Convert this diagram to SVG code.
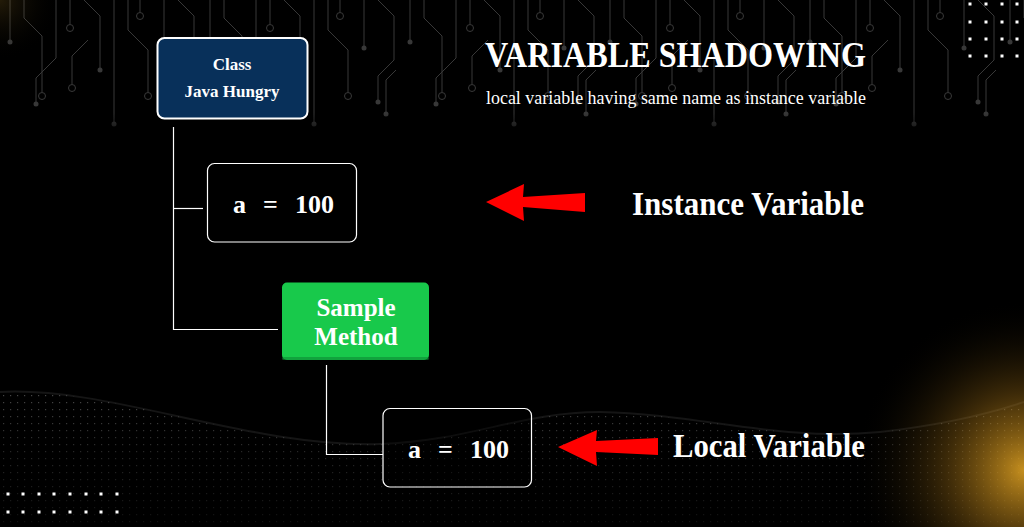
<svg xmlns="http://www.w3.org/2000/svg" width="1024" height="527" viewBox="0 0 1024 527">
  <defs>
    <style>
      .trace { fill: none; stroke: #383838; stroke-width: 1; }
      .dotc { fill: #383838; }
      .ring { fill: none; stroke: #383838; stroke-width: 1; }
      .sq { fill: #ffffff; }
      .conn { fill: none; stroke: #ffffff; stroke-width: 1.2; }
      .serif { font-family: "Liberation Serif", "Times New Roman", serif; fill: #ffffff; }
      .b { font-weight: bold; }
      .arrow { fill: #ff0000; }
      .vbox { fill: #000000; stroke: #ffffff; stroke-width: 1.2; }
    </style>
    <pattern id="circuit" x="0" y="0" width="200" height="140" patternUnits="userSpaceOnUse">
      <path class="trace" d="M10 0 V40"/><circle class="dotc" cx="10" cy="42" r="2.5"/>
      <path class="trace" d="M24 0 V18 L42 36 V92"/><circle class="ring" cx="42" cy="96" r="3.5"/>
      <path class="trace" d="M56 0 V58 L36 78 V102"/><circle class="dotc" cx="36" cy="104" r="2.5"/>
      <path class="trace" d="M70 0 V24"/><circle class="ring" cx="70" cy="28" r="3.5"/>
      <path class="trace" d="M84 0 L100 16 V68"/><circle class="dotc" cx="100" cy="70" r="2.5"/>
      <path class="trace" d="M114 0 V122"/><circle class="dotc" cx="114" cy="124" r="2.5"/>
      <path class="trace" d="M128 0 V30 L148 50 V92"/><circle class="ring" cx="148" cy="96" r="3.5"/>
      <path class="trace" d="M140 0 V12"/><circle class="ring" cx="140" cy="16" r="3.5"/>
      <path class="trace" d="M164 0 V46"/><circle class="dotc" cx="164" cy="48" r="2.5"/>
      <path class="trace" d="M178 0 L194 16 V60 L178 76 V100"/><circle class="dotc" cx="178" cy="102" r="2.5"/>
      <path class="trace" d="M88 40 L72 56 V84"/><circle class="ring" cx="72" cy="88" r="3.5"/>
      <path class="trace" d="M196 70 L186 80 V112"/><circle class="dotc" cx="186" cy="114" r="2.5"/>
    </pattern>
    <pattern id="mesh" x="0" y="0" width="7" height="7" patternUnits="userSpaceOnUse">
      <rect x="3" y="3" width="1.2" height="1.2" fill="#9a9a9a"/>
    </pattern>
    <linearGradient id="meshFade" x1="0" y1="0" x2="0" y2="1">
      <stop offset="0" stop-color="#ffffff" stop-opacity="0.5"/>
      <stop offset="0.5" stop-color="#ffffff" stop-opacity="0.25"/>
      <stop offset="1" stop-color="#ffffff" stop-opacity="0.1"/>
    </linearGradient>
    <mask id="meshMask">
      <rect x="0" y="380" width="1024" height="147" fill="url(#meshFade)"/>
    </mask>
    <radialGradient id="glowBR" cx="1024" cy="470" r="170" gradientUnits="userSpaceOnUse">
      <stop offset="0" stop-color="#e8a824" stop-opacity="0.85"/>
      <stop offset="0.45" stop-color="#b07a18" stop-opacity="0.35"/>
      <stop offset="1" stop-color="#000000" stop-opacity="0"/>
    </radialGradient>
    <radialGradient id="glowTL" cx="0" cy="0" r="60" gradientUnits="userSpaceOnUse">
      <stop offset="0" stop-color="#c89a30" stop-opacity="0.18"/>
      <stop offset="1" stop-color="#000000" stop-opacity="0"/>
    </radialGradient>
    <linearGradient id="circFade" x1="0" y1="0" x2="0" y2="1">
      <stop offset="0" stop-color="#000" stop-opacity="0"/>
      <stop offset="0.8" stop-color="#000" stop-opacity="0"/>
      <stop offset="1" stop-color="#000" stop-opacity="1"/>
    </linearGradient>
  </defs>

  <!-- background -->
  <g id="background">
    <rect x="0" y="0" width="1024" height="527" fill="#000000"/>
    <rect x="0" y="0" width="1024" height="140" fill="url(#circuit)"/>
    <rect x="0" y="0" width="1024" height="141" fill="url(#circFade)"/>
    <rect x="0" y="0" width="1024" height="527" fill="url(#glowTL)"/>
    <path d="M0 392 C 110 386, 250 448, 380 444 C 470 441, 520 412, 600 412 C 700 414, 780 442, 880 432 C 950 424, 1000 410, 1024 402 L1024 527 L0 527 Z" fill="url(#mesh)" mask="url(#meshMask)"/>
    <path d="M0 392 C 110 386, 250 448, 380 444 C 470 441, 520 412, 600 412 C 700 414, 780 442, 880 432 C 950 424, 1000 410, 1024 402" fill="none" stroke="#444" stroke-width="2" opacity="0.3"/>
    <rect x="0" y="0" width="1024" height="527" fill="url(#glowBR)"/>
    <g id="dots-top-right">
      <rect class="sq" x="968.5" y="2.5" width="3" height="3"/><rect class="sq" x="984.5" y="2.5" width="3" height="3"/><rect class="sq" x="1000.5" y="2.5" width="3" height="3"/><rect class="sq" x="1015.5" y="2.5" width="3" height="3"/>
      <rect class="sq" x="968.5" y="20.5" width="3" height="3"/><rect class="sq" x="984.5" y="20.5" width="3" height="3"/><rect class="sq" x="1000.5" y="20.5" width="3" height="3"/><rect class="sq" x="1015.5" y="20.5" width="3" height="3"/>
      <rect class="sq" x="968.5" y="37.5" width="3" height="3"/><rect class="sq" x="984.5" y="37.5" width="3" height="3"/><rect class="sq" x="1000.5" y="37.5" width="3" height="3"/><rect class="sq" x="1015.5" y="37.5" width="3" height="3"/>
      <rect class="sq" x="968.5" y="54.5" width="3" height="3"/><rect class="sq" x="984.5" y="54.5" width="3" height="3"/><rect class="sq" x="1000.5" y="54.5" width="3" height="3"/><rect class="sq" x="1015.5" y="54.5" width="3" height="3"/>
    </g>
    <g id="dots-bottom-left">
      <rect class="sq" x="6.5" y="492.5" width="3" height="3"/><rect class="sq" x="21.5" y="492.5" width="3" height="3"/><rect class="sq" x="37.5" y="492.5" width="3" height="3"/><rect class="sq" x="52.5" y="492.5" width="3" height="3"/><rect class="sq" x="68.5" y="492.5" width="3" height="3"/><rect class="sq" x="84.5" y="492.5" width="3" height="3"/><rect class="sq" x="99.5" y="492.5" width="3" height="3"/><rect class="sq" x="115.5" y="492.5" width="3" height="3"/>
      <rect class="sq" x="6.5" y="510.5" width="3" height="3"/><rect class="sq" x="21.5" y="510.5" width="3" height="3"/><rect class="sq" x="37.5" y="510.5" width="3" height="3"/><rect class="sq" x="52.5" y="510.5" width="3" height="3"/><rect class="sq" x="68.5" y="510.5" width="3" height="3"/><rect class="sq" x="84.5" y="510.5" width="3" height="3"/><rect class="sq" x="99.5" y="510.5" width="3" height="3"/><rect class="sq" x="115.5" y="510.5" width="3" height="3"/>
    </g>
  </g>

  <!-- title -->
  <g id="title">
    <text class="serif b" x="485" y="67" font-size="35" textLength="381" lengthAdjust="spacingAndGlyphs">VARIABLE SHADOWING</text>
    <text class="serif" x="486" y="104" font-size="19" textLength="380" lengthAdjust="spacingAndGlyphs">local variable having same name as instance variable</text>
  </g>

  <!-- connectors -->
  <g id="connectors">
    <path class="conn" d="M173.5 127 V329.5 H278"/>
    <path class="conn" d="M173.5 208.5 H203"/>
    <path class="conn" d="M326.5 365 V454.5 H383"/>
    <polygon id="arrow-instance" class="arrow" points="486,202 524,184 523,197 585,193 585,212 523,207 524,221"/>
    <polygon id="arrow-local" class="arrow" points="558,447 597,430 596,441 658,438 658,455 596,452 597,466"/>
  </g>

  <g id="node-class">
    <rect x="157.5" y="38" width="150" height="80.5" rx="7" fill="#08305a" stroke="#ffffff" stroke-width="2"/>
    <text class="serif b" x="232" y="70" font-size="17" text-anchor="middle">Class</text>
    <text class="serif b" x="232" y="97" font-size="17" text-anchor="middle">Java Hungry</text>
  </g>

  <g id="node-instance-var">
    <rect class="vbox" x="207.5" y="163.5" width="149" height="78.5" rx="7"/>
    <text class="serif b" x="233" y="213" font-size="26">a</text>
    <text class="serif b" x="263" y="213" font-size="26">=</text>
    <text class="serif b" x="295" y="213" font-size="26">100</text>
  </g>

  <g id="node-sample-method">
    <rect x="282" y="282.5" width="147" height="77.5" rx="5" fill="#18c94b"/>
    <rect x="282" y="357" width="147" height="3" rx="1.5" fill="#0e8a33" opacity="0.6"/>
    <text class="serif b" x="356" y="316" font-size="25" text-anchor="middle">Sample</text>
    <text class="serif b" x="356" y="345" font-size="25" text-anchor="middle">Method</text>
  </g>

  <g id="node-local-var">
    <rect class="vbox" x="383" y="408.5" width="148.5" height="78.5" rx="7" fill-opacity="0.35"/>
    <text class="serif b" x="408" y="458" font-size="26">a</text>
    <text class="serif b" x="438" y="458" font-size="26">=</text>
    <text class="serif b" x="470" y="458" font-size="26">100</text>
  </g>

  <g id="label-instance">
    <text class="serif b" x="632" y="215" font-size="33" textLength="232" lengthAdjust="spacingAndGlyphs">Instance Variable</text>
  </g>
  <g id="label-local">
    <text class="serif b" x="673" y="457" font-size="33" textLength="192" lengthAdjust="spacingAndGlyphs">Local Variable</text>
  </g>
</svg>
